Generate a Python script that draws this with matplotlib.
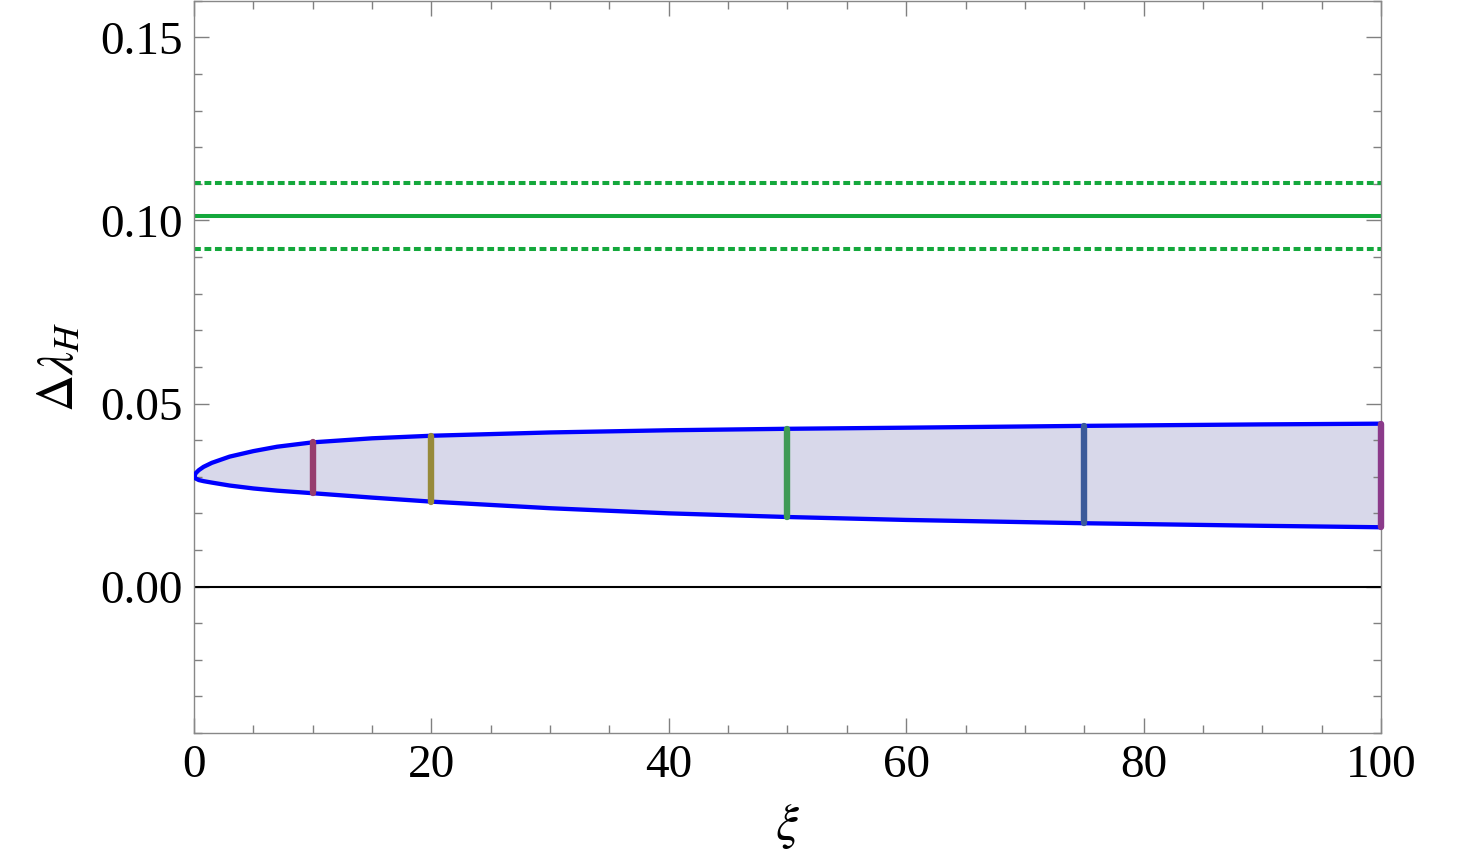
import numpy as np
import matplotlib.pyplot as plt
from matplotlib.ticker import MultipleLocator

plt.rcParams['font.family'] = ['Liberation Serif', 'DejaVu Serif']
plt.rcParams['mathtext.fontset'] = 'stix'

# -- data ---------------------------------------------------------------------

xi = [0, 0.15, 0.4, 0.8, 1.5, 3, 5, 7, 10, 15, 20, 30, 40, 50, 60, 75, 90,
      100]
upper = [0.0300, 0.0310, 0.0318, 0.0327, 0.0338, 0.0355, 0.0370, 0.0382,
         0.0394, 0.0405, 0.0412, 0.0421, 0.0427, 0.0431, 0.0434, 0.0439,
         0.0443, 0.0445]
lower = [0.0300, 0.0295, 0.0291, 0.0288, 0.0284, 0.0276, 0.0268, 0.0262,
         0.0255, 0.0243, 0.0232, 0.0214, 0.0200, 0.0190, 0.0182, 0.0173,
         0.0166, 0.0162]

central = 0.1012
band_hi = 0.1102
band_lo = 0.0922

marks_xi = [10, 20, 50, 75, 100]
marks_colors = ['#963d6e', '#978a3a', '#3f9a55', '#3b5a9a', '#8b3a8a']

xticks = [0, 20, 40, 60, 80, 100]
yticks = [0.00, 0.05, 0.10, 0.15]


def save_or_show(output):
  plt.savefig(output, dpi=100)


def main():
  fig = plt.figure(figsize=(14.59, 8.55))
  ax = fig.add_axes([0.133, 0.1427, 0.8135, 0.8563])

  x = np.array(xi)
  up = np.array(upper)
  lo = np.array(lower)

  ax.fill_between(x, lo, up, color='#d8d8ea', lw=0, zorder=1)
  ax.axhline(0, color='black', lw=1.5, zorder=2)

  for m, c in zip(marks_xi, marks_colors):
    i = xi.index(m)
    ax.plot([m, m], [lower[i], upper[i]], color=c, lw=4.6,
            solid_capstyle='round', zorder=4, clip_on=False)

  curve_x = np.concatenate([x[::-1], x])
  curve_y = np.concatenate([up[::-1], lo])
  ax.plot(curve_x, curve_y, color='#0000ff', lw=3.1, zorder=3,
          solid_joinstyle='round')

  ax.axhline(central, color='#14a83c', lw=2.9, zorder=2)
  for y in (band_hi, band_lo):
    ax.axhline(y, color='#14a83c', lw=2.9, ls=(0, (1.7, 0.9)), zorder=2)

  ax.set_xlim(0, 100)
  ax.set_ylim(-0.04, 0.16)
  ax.set_xticks(xticks)
  ax.set_yticks(yticks)
  ax.set_xticklabels([str(t) for t in xticks])
  ax.set_yticklabels([f'{t:.2f}' for t in yticks])
  ax.xaxis.set_minor_locator(MultipleLocator(5))
  ax.yaxis.set_minor_locator(MultipleLocator(0.01))

  ax.tick_params(which='both', direction='in', top=True, right=True,
                 color='#808080', width=1, labelsize=34)
  ax.tick_params(which='major', length=11, pad=8)
  ax.tick_params(which='minor', length=6)
  for s in ax.spines.values():
    s.set_color('#888888')
    s.set_linewidth(1)

  ax.set_xlabel(r'$\xi$', fontsize=37, labelpad=11)
  ax.set_ylabel(r'$\Delta\lambda_H$', fontsize=37, labelpad=12)

  save_or_show('out.png')


if __name__ == '__main__':
  main()
